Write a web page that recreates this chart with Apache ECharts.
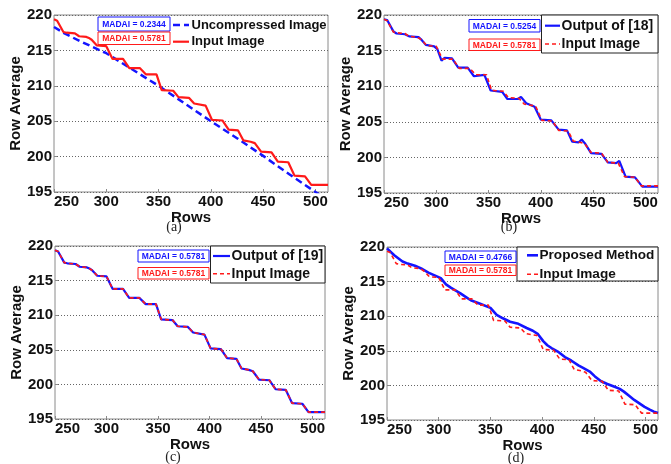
<!DOCTYPE html>
<html>
<head>
<meta charset="utf-8">
<script src="https://cdn.jsdelivr.net/npm/echarts@6/dist/echarts.min.js"></script>
<style>
html,body{margin:0;padding:0;background:#fff;}
#c{width:671px;height:464px;}
</style>
</head>
<body>
<div id="c"></div>
<script>
// ---- data ----
const xMin = 250, xMax = 512, xStep = 50;
const yMin = 195, yMax = 220, yStep = 5;
const xName = 'Rows', yName = 'Row Average';
const captions = ['(a)', '(b)', '(c)', '(d)'];

const inputImage = [[250,219.4],[253,219.2],[259,217.6],[262,217.5],[270,217.4],[274,217.0],[281,216.9],[284,216.7],[286,216.5],[291,215.7],[300,215.6],[306,213.8],[316,213.8],[322,212.5],[332,212.5],[338,211.6],[348,211.6],[353,209.4],[364,209.3],[369,208.4],[379,208.3],[384,207.5],[395,207.2],[401,205.2],[411,205.1],[417,203.8],[426,203.7],[431,202.3],[438,202.1],[442,201.9],[448,200.7],[458,200.6],[464,199.3],[474,199.2],[480,197.3],[490,197.2],[496,196.0],[512,196.0]];

const uncompressed = [[250,218.3],[260,217.4],[275,216.3],[300,214.6],[325,212.3],[350,210.0],[375,207.5],[400,205.0],[425,202.6],[450,200.1],[475,197.5],[500,195.0],[505,194.5]];

const output18 = [[250,219.4],[253,219.3],[259,217.7],[262,217.4],[270,217.3],[274,217.0],[283,216.9],[286,216.5],[290,215.8],[298,215.6],[301,215.2],[305,213.6],[308,214.0],[315,213.9],[321,212.6],[330,212.6],[336,211.4],[346,211.6],[352,209.4],[363,209.2],[368,208.2],[378,208.2],[381,208.5],[386,207.6],[394,207.1],[400,205.3],[410,205.2],[417,203.9],[425,203.8],[430,202.2],[436,202.1],[439,202.5],[442,202.0],[448,200.6],[458,200.5],[464,199.3],[472,199.2],[475,199.5],[481,197.3],[490,197.2],[497,195.9],[512,195.9]];

const output19 = [[250,219.4],[253,219.2],[259,217.6],[262,217.5],[270,217.4],[274,217.0],[281,216.9],[284,216.7],[286,216.5],[291,215.7],[300,215.6],[306,213.8],[316,213.8],[322,212.5],[332,212.5],[338,211.6],[348,211.6],[353,209.4],[364,209.3],[369,208.4],[379,208.3],[384,207.5],[395,207.2],[401,205.2],[411,205.1],[417,203.8],[426,203.7],[431,202.3],[438,202.1],[442,201.9],[448,200.7],[458,200.6],[464,199.3],[474,199.2],[480,197.3],[490,197.2],[496,196.0],[512,196.0]];

const proposed = [[250,219.8],[257,218.8],[265,217.9],[270,217.6],[277,217.3],[283,216.9],[290,216.3],[296,215.9],[302,215.5],[307,214.6],[312,214.1],[321,213.3],[326,212.8],[331,212.3],[340,211.8],[350,211.2],[356,210.2],[362,209.7],[369,209.2],[377,208.9],[385,208.3],[391,207.9],[396,207.4],[401,206.4],[405,205.8],[409,205.4],[416,204.8],[422,204.1],[428,203.6],[435,202.9],[440,202.5],[446,202.0],[451,201.3],[457,200.6],[463,200.2],[470,199.8],[475,199.5],[479,199.1],[484,198.5],[489,197.9],[494,197.4],[499,196.9],[504,196.5],[508,196.2],[512,196.0]];

const legendNames = [
  ['Uncompressed Image', 'Input Image'],
  ['Output of [18]', 'Input Image'],
  ['Output of [19]', 'Input Image'],
  ['Proposed Method', 'Input Image']
];
const madaiLabels = [
  ['MADAI = 0.2344', 'MADAI = 0.5781'],
  ['MADAI = 0.5254', 'MADAI = 0.5781'],
  ['MADAI = 0.5781', 'MADAI = 0.5781'],
  ['MADAI = 0.4766', 'MADAI = 0.5781']
];

// ---- styles / layout ----
const BLUE = '#1414ff', RED = '#ff1a1a';
const FONT = 'Liberation Sans, Arial, sans-serif';
const grids = [
  {left:54, top:15, width:274, height:177},
  {left:384, top:15, width:274, height:178},
  {left:55, top:246, width:270, height:173},
  {left:387, top:247, width:271, height:173}
];
const capPos = [[174,227],[509,227],[173,457],[516,458]];
const legendFont = [13, 14, 14, 13.6];
// per-panel legend/annotation layout
const lay = [
  {box:null, lx:[173,189], tx:191.5, ry:[25,41.7], mb:[[98,17,72,14],[98,32,72,12.5]]},
  {box:[541.5,15,116.5,38], lx:[545,560], tx:561.5, ry:[25.7,44], mb:[[469,19.5,71,12.5],[469,39,71,11.5]]},
  {box:[210.5,246,114.5,37], lx:[213,230], tx:231.5, ry:[256,273.7], mb:[[138,250,71,12],[138,267.5,71,11.5]]},
  {box:[517,247,141,34], lx:[527,538], tx:539.5, ry:[255.3,274.3], mb:[[445,251,71,11.5],[445,265,71,10.5]]}
];
const blueData = [uncompressed, output18, output19, proposed];
const blueStyle = [
  {color:BLUE, width:2.5, type:[7,4]},
  {color:BLUE, width:2.2, type:'solid'},
  {color:BLUE, width:2.2, type:'solid'},
  {color:BLUE, width:2.6, type:'solid'}
];
const redStyle = [
  {color:RED, width:2.2, type:'solid'},
  {color:RED, width:1.6, type:[4,3]},
  {color:RED, width:1.6, type:[4,3]},
  {color:RED, width:1.6, type:[4,3]}
];

const option = {
  animation:false,
  backgroundColor:'#fff',
  grid: grids.map(g => Object.assign({show:true, borderColor:'#8a8a8a', borderWidth:1, backgroundColor:'#fff'}, g)),
  xAxis: grids.map((g,i) => ({
    type:'value', gridIndex:i, min:xMin, max:xMax, interval:xStep,
    name:xName, nameLocation:'middle', nameGap:15,
    nameTextStyle:{fontFamily:FONT, fontSize:15, fontWeight:'bold', color:'#111'},
    axisLine:{show:false},
    axisTick:{show:true, inside:true, length:3, lineStyle:{color:'#8a8a8a'}},
    axisLabel:{fontFamily:FONT, fontSize:15, fontWeight:'bold', color:'#111', margin:2, alignMinLabel:'left'},
    splitLine:{show:false}
  })),
  yAxis: grids.map((g,i) => ({
    type:'value', gridIndex:i, min:yMin, max:yMax, interval:yStep,
    name:yName, nameLocation:'middle', nameGap:28,
    nameTextStyle:{fontFamily:FONT, fontSize:15, fontWeight:'bold', color:'#111'},
    axisLine:{show:false},
    axisTick:{show:true, inside:true, length:3, lineStyle:{color:'#8a8a8a'}},
    axisLabel:{fontFamily:FONT, fontSize:15, fontWeight:'bold', color:'#111', margin:2},
    splitLine:{show:true, lineStyle:{color:'#666', type:[1,2], width:1}}
  })),
  series: [],
  graphic: []
};

for (let i = 0; i < 4; i++) {
  option.series.push({
    type:'line', xAxisIndex:i, yAxisIndex:i, name:legendNames[i][0], data:blueData[i],
    showSymbol:false, symbol:'none', clip:true, z:3,
    lineStyle:blueStyle[i]
  });
  option.series.push({
    type:'line', xAxisIndex:i, yAxisIndex:i, name:legendNames[i][1]+i, data:inputImage,
    showSymbol:false, symbol:'none', clip:true, z:4,
    lineStyle:redStyle[i]
  });
  const L = lay[i];
  if (L.box) {
    option.graphic.push({type:'rect', z:100, shape:{x:L.box[0], y:L.box[1], width:L.box[2], height:L.box[3]},
      style:{fill:'#fff', stroke:'#222', lineWidth:1}});
  }
  const styles = [blueStyle[i], redStyle[i]];
  for (let r = 0; r < 2; r++) {
    const st = styles[r];
    option.graphic.push({type:'line', z:101, shape:{x1:L.lx[0], y1:L.ry[r], x2:L.lx[1], y2:L.ry[r]},
      style:{stroke:st.color, lineWidth:st.width, lineDash: st.type === 'solid' ? null : st.type}});
    option.graphic.push({type:'text', z:101, style:{x:L.tx, y:L.ry[r], text:legendNames[i][r],
      font:'bold ' + legendFont[i] + 'px ' + FONT, fill:'#111', align:'left', verticalAlign:'middle'}});
    const m = L.mb[r];
    const col = r === 0 ? BLUE : RED;
    option.graphic.push({type:'rect', z:101, shape:{x:m[0], y:m[1], width:m[2], height:m[3]},
      style:{fill:'#fff', stroke:col, lineWidth:1}});
    option.graphic.push({type:'text', z:102, style:{x:m[0]+m[2]/2, y:m[1]+m[3]/2+0.5, text:madaiLabels[i][r],
      font:'bold 8.5px ' + FONT, fill:col, align:'center', verticalAlign:'middle'}});
  }
  option.graphic.push({type:'text', z:101, style:{x:capPos[i][0], y:capPos[i][1], text:captions[i],
    font:'14px Liberation Serif, Times New Roman, serif', fill:'#222', align:'center', verticalAlign:'middle'}});
}

const chart = echarts.init(document.getElementById('c'), null, {renderer:'canvas'});
chart.setOption(option);
</script>
</body>
</html>
